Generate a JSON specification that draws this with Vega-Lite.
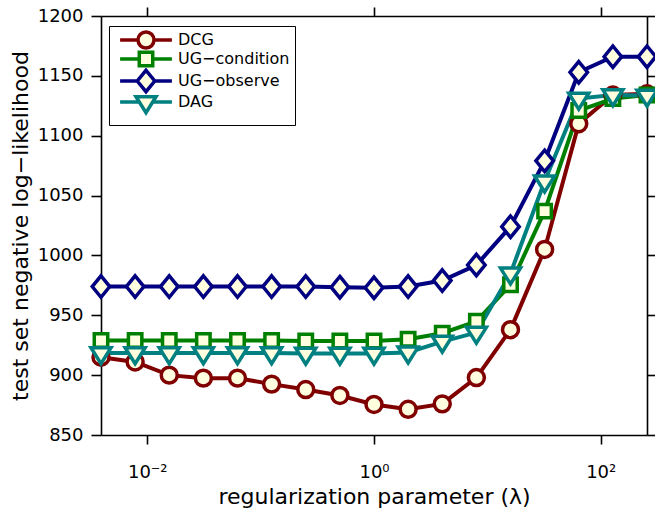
{
  "$schema": "https://vega.github.io/schema/vega-lite/v6.json",
  "width": 546,
  "height": 419,
  "autosize": {"type": "none"},
  "padding": {"left": 101, "top": 16, "right": 8, "bottom": 73},
  "background": "white",
  "config": {
    "font": "DejaVu Sans",
    "view": {"stroke": null},
    "axis": {
      "domainColor": "black",
      "domainWidth": 1.6,
      "tickColor": "black",
      "tickWidth": 1.6,
      "tickSize": 9,
      "grid": false,
      "labelColor": "black",
      "titleColor": "black",
      "labelFont": "DejaVu Sans",
      "titleFont": "DejaVu Sans",
      "titleFontWeight": "normal"
    }
  },
  "data": {
    "values": [
      {"lambda": 0.00390625, "model": "DCG", "nll": 915},
      {"lambda": 0.0078125, "model": "DCG", "nll": 911},
      {"lambda": 0.015625, "model": "DCG", "nll": 900},
      {"lambda": 0.03125, "model": "DCG", "nll": 897.5},
      {"lambda": 0.0625, "model": "DCG", "nll": 897.5},
      {"lambda": 0.125, "model": "DCG", "nll": 892.5},
      {"lambda": 0.25, "model": "DCG", "nll": 888},
      {"lambda": 0.5, "model": "DCG", "nll": 883},
      {"lambda": 1, "model": "DCG", "nll": 875.5},
      {"lambda": 2, "model": "DCG", "nll": 871.5},
      {"lambda": 4, "model": "DCG", "nll": 876},
      {"lambda": 8, "model": "DCG", "nll": 898},
      {"lambda": 16, "model": "DCG", "nll": 938},
      {"lambda": 32, "model": "DCG", "nll": 1005},
      {"lambda": 64, "model": "DCG", "nll": 1110},
      {"lambda": 128, "model": "DCG", "nll": 1134},
      {"lambda": 256, "model": "DCG", "nll": 1135},
      {"lambda": 0.00390625, "model": "UG−condition", "nll": 929},
      {"lambda": 0.0078125, "model": "UG−condition", "nll": 929},
      {"lambda": 0.015625, "model": "UG−condition", "nll": 929},
      {"lambda": 0.03125, "model": "UG−condition", "nll": 929},
      {"lambda": 0.0625, "model": "UG−condition", "nll": 929},
      {"lambda": 0.125, "model": "UG−condition", "nll": 929},
      {"lambda": 0.25, "model": "UG−condition", "nll": 928.5},
      {"lambda": 0.5, "model": "UG−condition", "nll": 928.5},
      {"lambda": 1, "model": "UG−condition", "nll": 928.5},
      {"lambda": 2, "model": "UG−condition", "nll": 930},
      {"lambda": 4, "model": "UG−condition", "nll": 935},
      {"lambda": 8, "model": "UG−condition", "nll": 945},
      {"lambda": 16, "model": "UG−condition", "nll": 975.5},
      {"lambda": 32, "model": "UG−condition", "nll": 1037},
      {"lambda": 64, "model": "UG−condition", "nll": 1121},
      {"lambda": 128, "model": "UG−condition", "nll": 1131},
      {"lambda": 256, "model": "UG−condition", "nll": 1134},
      {"lambda": 0.00390625, "model": "UG−observe", "nll": 974},
      {"lambda": 0.0078125, "model": "UG−observe", "nll": 974},
      {"lambda": 0.015625, "model": "UG−observe", "nll": 974},
      {"lambda": 0.03125, "model": "UG−observe", "nll": 974},
      {"lambda": 0.0625, "model": "UG−observe", "nll": 974},
      {"lambda": 0.125, "model": "UG−observe", "nll": 974},
      {"lambda": 0.25, "model": "UG−observe", "nll": 974},
      {"lambda": 0.5, "model": "UG−observe", "nll": 973.5},
      {"lambda": 1, "model": "UG−observe", "nll": 973},
      {"lambda": 2, "model": "UG−observe", "nll": 974},
      {"lambda": 4, "model": "UG−observe", "nll": 979},
      {"lambda": 8, "model": "UG−observe", "nll": 992},
      {"lambda": 16, "model": "UG−observe", "nll": 1024},
      {"lambda": 32, "model": "UG−observe", "nll": 1079},
      {"lambda": 64, "model": "UG−observe", "nll": 1153},
      {"lambda": 128, "model": "UG−observe", "nll": 1166},
      {"lambda": 256, "model": "UG−observe", "nll": 1166},
      {"lambda": 0.00390625, "model": "DAG", "nll": 918.5},
      {"lambda": 0.0078125, "model": "DAG", "nll": 918.5},
      {"lambda": 0.015625, "model": "DAG", "nll": 918.5},
      {"lambda": 0.03125, "model": "DAG", "nll": 918.5},
      {"lambda": 0.0625, "model": "DAG", "nll": 918.5},
      {"lambda": 0.125, "model": "DAG", "nll": 918.5},
      {"lambda": 0.25, "model": "DAG", "nll": 918},
      {"lambda": 0.5, "model": "DAG", "nll": 918},
      {"lambda": 1, "model": "DAG", "nll": 918},
      {"lambda": 2, "model": "DAG", "nll": 919},
      {"lambda": 4, "model": "DAG", "nll": 928},
      {"lambda": 8, "model": "DAG", "nll": 935.5},
      {"lambda": 16, "model": "DAG", "nll": 985},
      {"lambda": 32, "model": "DAG", "nll": 1062},
      {"lambda": 64, "model": "DAG", "nll": 1131},
      {"lambda": 128, "model": "DAG", "nll": 1134},
      {"lambda": 256, "model": "DAG", "nll": 1133.5}
    ]
  },
  "layer": [
    {
      "mark": {"type": "line", "strokeWidth": 4, "strokeJoin": "miter"},
      "encoding": {
        "x": {
          "field": "lambda", "type": "quantitative",
          "scale": {"type": "log", "domain": [0.00390625, 256], "nice": false},
          "axis": {
            "values": [0.01, 1, 100],
            "labelExpr": "datum.value < 0.1 ? '10⁻²' : (datum.value < 10 ? '10⁰' : '10²')",
            "labelFontSize": 18,
            "labelBaseline": "alphabetic",
            "labelPadding": 33,
            "title": "regularization parameter (λ)",
            "titleFontSize": 22,
            "titleBaseline": "alphabetic",
            "titleY": 68
          }
        },
        "y": {
          "field": "nll", "type": "quantitative",
          "scale": {"domain": [850, 1200], "nice": false, "zero": false},
          "axis": {
            "values": [850, 900, 950, 1000, 1050, 1100, 1150, 1200],
            "format": "d",
            "labelFontSize": 18,
            "labelPadding": 8,
            "tickSize": 10,
            "title": "test set negative log−likelihood",
            "titleFontSize": 22,
            "titleBaseline": "alphabetic",
            "titleX": -74
          }
        },
        "color": {
          "field": "model", "type": "nominal",
          "scale": {
            "domain": ["DCG", "UG−condition", "UG−observe", "DAG"],
            "range": ["#800000", "#008000", "#000080", "#008080"]
          },
          "legend": {
            "title": null,
            "orient": "none",
            "legendX": 8,
            "legendY": 10,
            "strokeColor": "black",
            "fillColor": "white",
            "padding": 5,
            "symbolSize": 196,
            "symbolStrokeWidth": 3.5,
            "symbolOffset": 23,
            "labelFontSize": 16,
            "labelColor": "black",
            "labelOffset": 23,
            "gridAlign": "none",
            "rowPadding": -10,
            "encode": {
              "symbols": {
                "update": {
                  "shape": {"signal": "datum.value === 'DCG' ? 'M-3.7,0L-1.14,0M1.14,0L3.7,0M1.14,0A1.14,1.14 0 1,1 -1.14,0A1.14,1.14 0 1,1 1.14,0Z' : (datum.value === 'DAG' ? 'M-3.7,0L-0.95,0M0.95,0L3.7,0M-1.43,-0.76L1.43,-0.76L0,1.52Z' : (datum.value === 'UG−observe' ? 'M-3.7,0L-1.25,0M1.25,0L3.7,0M0,-1.53L1.25,0L0,1.53L-1.25,0Z' : 'M-3.7,0L-0.96,0M0.96,0L3.7,0M-0.96,-0.96L0.96,-0.96L0.96,0.96L-0.96,0.96Z'))"},
                  "fill": {"value": "#ffffe0"},
                  "fillOpacity": {"value": 1},
                  "strokeWidth": {"value": 3.5},
                  "opacity": {"value": 1}
                }
              }
            }
          }
        }
      }
    },
    {
      "transform": [{"filter": "datum.model === 'DCG'"}],
      "mark": {"type": "point", "shape": "M1.14,0A1.14,1.14 0 1,1 -1.14,0A1.14,1.14 0 1,1 1.14,0Z", "filled": false, "fill": "#ffffe0", "fillOpacity": 1, "opacity": 1, "strokeWidth": 3.5, "size": 196, "strokeJoin": "miter"},
      "encoding": {
        "x": {"field": "lambda", "type": "quantitative", "scale": {"type": "log", "domain": [0.00390625, 256], "nice": false}, "axis": null},
        "y": {"field": "nll", "type": "quantitative", "scale": {"domain": [850, 1200], "nice": false, "zero": false}, "axis": null},
        "color": {"field": "model", "type": "nominal"}
      }
    },
    {
      "transform": [{"filter": "datum.model === 'UG−condition'"}],
      "mark": {"type": "point", "shape": "M-0.96,-0.96L0.96,-0.96L0.96,0.96L-0.96,0.96Z", "filled": false, "fill": "#ffffe0", "fillOpacity": 1, "opacity": 1, "strokeWidth": 3.5, "size": 196, "strokeJoin": "miter"},
      "encoding": {
        "x": {"field": "lambda", "type": "quantitative", "scale": {"type": "log", "domain": [0.00390625, 256], "nice": false}, "axis": null},
        "y": {"field": "nll", "type": "quantitative", "scale": {"domain": [850, 1200], "nice": false, "zero": false}, "axis": null},
        "color": {"field": "model", "type": "nominal"}
      }
    },
    {
      "transform": [{"filter": "datum.model === 'UG−observe'"}],
      "mark": {"type": "point", "shape": "M0,-1.53L1.25,0L0,1.53L-1.25,0Z", "filled": false, "fill": "#ffffe0", "fillOpacity": 1, "opacity": 1, "strokeWidth": 3.5, "size": 196, "strokeJoin": "miter"},
      "encoding": {
        "x": {"field": "lambda", "type": "quantitative", "scale": {"type": "log", "domain": [0.00390625, 256], "nice": false}, "axis": null},
        "y": {"field": "nll", "type": "quantitative", "scale": {"domain": [850, 1200], "nice": false, "zero": false}, "axis": null},
        "color": {"field": "model", "type": "nominal"}
      }
    },
    {
      "transform": [{"filter": "datum.model === 'DAG'"}],
      "mark": {"type": "point", "shape": "M-1.43,-0.76L1.43,-0.76L0,1.52Z", "filled": false, "fill": "#ffffe0", "fillOpacity": 1, "opacity": 1, "strokeWidth": 3.5, "size": 196, "strokeJoin": "miter"},
      "encoding": {
        "x": {
          "field": "lambda", "type": "quantitative",
          "scale": {"type": "log", "domain": [0.00390625, 256], "nice": false},
          "axis": {"orient": "top", "values": [0.01, 1, 100], "labels": false, "title": null}
        },
        "y": {
          "field": "nll", "type": "quantitative",
          "scale": {"domain": [850, 1200], "nice": false, "zero": false},
          "axis": {"orient": "right", "values": [850, 900, 950, 1000, 1050, 1100, 1150, 1200], "labels": false, "title": null, "tickSize": 10}
        },
        "color": {"field": "model", "type": "nominal"}
      }
    }
  ],
  "resolve": {"axis": {"x": "independent", "y": "independent"}}
}
